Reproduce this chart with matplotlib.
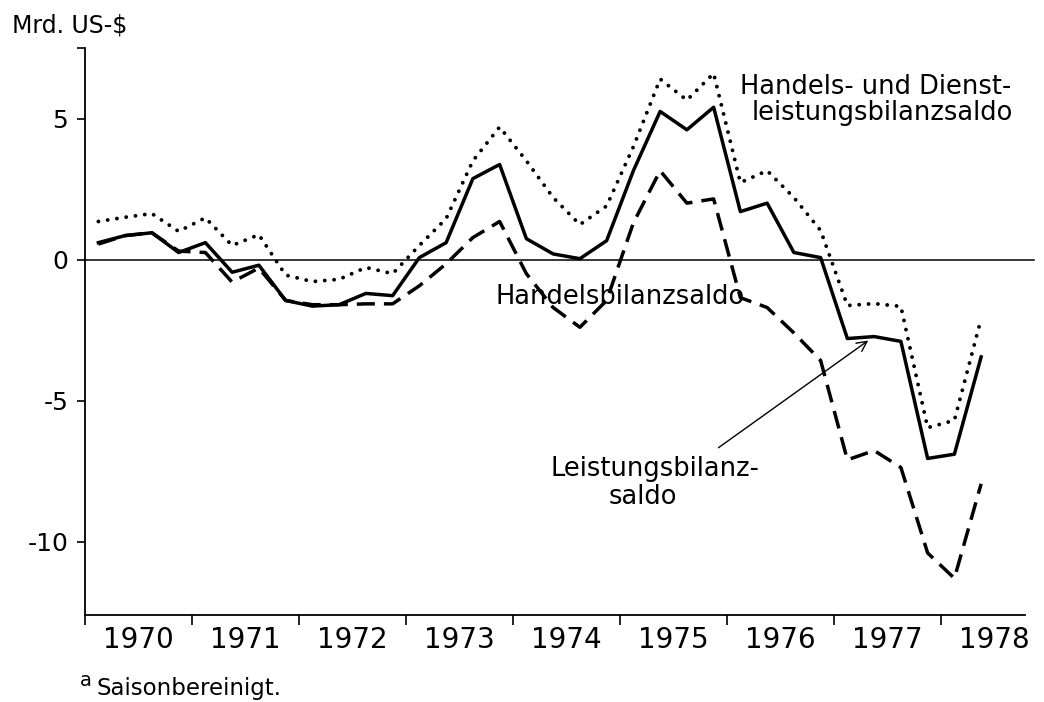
import numpy as np
import matplotlib.pyplot as plt

plt.rcParams['font.family'] = ['DejaVu Sans']

# quarterly values 1970 Q1 .. 1978 Q2, Mrd. US-$
quarters = np.arange(34)
handel = [0.6, 0.85, 0.95, 0.25, 0.6, -0.45, -0.2, -1.45, -1.65, -1.6, -1.2, -1.28,
          0.07, 0.6, 2.87, 3.37, 0.74, 0.2, 0.03, 0.67, 3.15, 5.25, 4.6, 5.4,
          1.7, 2.0, 0.25, 0.07, -2.8, -2.73, -2.9, -7.05, -6.9, -3.45]
handel_dienst = [1.35, 1.5, 1.63, 1.0, 1.48, 0.5, 0.88, -0.55, -0.78, -0.7, -0.28, -0.5,
                 0.5, 1.45, 3.5, 4.7, 3.5, 2.2, 1.24, 1.9, 4.0, 6.4, 5.65, 6.6,
                 2.73, 3.15, 2.2, 1.03, -1.63, -1.56, -1.66, -5.96, -5.7, -2.1]
leistung = [0.55, 0.85, 0.95, 0.3, 0.25, -0.8, -0.3, -1.45, -1.6, -1.6, -1.57, -1.57,
            -0.93, -0.15, 0.78, 1.35, -0.5, -1.7, -2.4, -1.45, 1.3, 3.15, 2.0, 2.15,
            -1.35, -1.7, -2.6, -3.58, -7.1, -6.77, -7.37, -10.4, -11.3, -7.95]
years = [1970, 1971, 1972, 1973, 1974, 1975, 1976, 1977, 1978]
yticks = [-10, -5, 0, 5]
ylabels = ['-10', '-5', '0', '5']

# middle of each quarter
t = 1970 + 0.125 + 0.25 * quarters

fig = plt.figure(figsize=(10.44, 7.02), dpi=100)
ax = fig.add_axes([85/1044, 1 - 615/702, 940/1044, 567/702])

ax.axhline(0, color='k', lw=1.1, xmax=1.01, clip_on=False)
ax.plot(t, handel_dienst, color='k', lw=2.8, linestyle=(0, (0.01, 2.4)),
        dash_capstyle='round')
ax.plot(t, leistung, color='k', lw=2.5, linestyle=(0, (5.2, 2.6)))
ax.plot(t, handel, color='k', lw=2.5)

ax.set_xlim(1970, 1978.785)
ax.set_ylim(-12.6, 7.5)

for s in ['top', 'right']:
    ax.spines[s].set_visible(False)
for s in ['left', 'bottom']:
    ax.spines[s].set_linewidth(1.3)

ax.set_xticks(years)
ax.set_xticklabels([])
ax.set_xticks([y + 0.5 for y in years], minor=True)
ax.set_xticklabels([str(y) for y in years], minor=True)
ax.tick_params(axis='x', which='major', direction='out', length=7, width=1.2)
ax.tick_params(axis='x', which='minor', length=0, pad=8, labelsize=20)

ax.set_yticks(yticks)
ax.set_yticklabels(ylabels)
ax.set_yticks([7.5], minor=True)
ax.tick_params(axis='y', which='both', direction='out', length=6, width=1.2,
               pad=6, labelsize=18)

fs = 18.5
ax.text(1976.12, 6.1, 'Handels- und Dienst-', fontsize=fs, va='center')
ax.text(1976.23, 5.18, 'leistungsbilanzsaldo', fontsize=fs, va='center')
ax.text(1973.84, -1.31, 'Handelsbilanzsaldo', fontsize=fs, va='center')
ax.text(1974.35, -7.41, 'Leistungsbilanz-', fontsize=fs, va='center')
ax.text(1974.89, -8.4, 'saldo', fontsize=fs, va='center')
ax.annotate('', xy=(1977.32, -2.87), xytext=(1975.92, -6.67),
            arrowprops=dict(arrowstyle='->', lw=1.0, color='k',
                            shrinkA=0, shrinkB=0, mutation_scale=18))

fig.text(12/1044, 1 - 25/702, 'Mrd. US-$', fontsize=17, va='center')
fig.text(80/1044, 1 - 680/702, 'a', fontsize=14, va='center')
fig.text(96/1044, 1 - 689/702, 'Saisonbereinigt.', fontsize=16.5, va='center')

fig.savefig('out.png', dpi=100)
